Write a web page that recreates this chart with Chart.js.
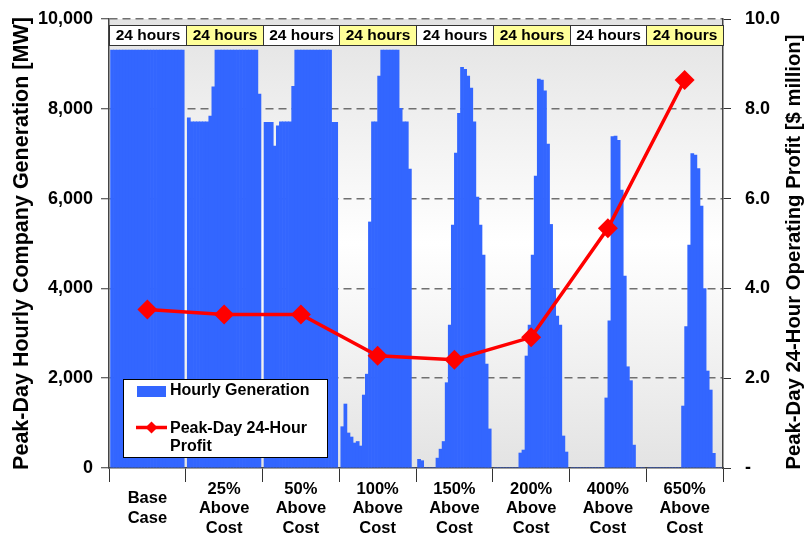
<!DOCTYPE html>
<html>
<head>
<meta charset="utf-8">
<script src="https://cdn.jsdelivr.net/npm/chart.js@4.4.1/dist/chart.umd.min.js"></script>
<style>
  html, body { margin: 0; padding: 0; background: #fff; }
  #wrap { width: 804px; height: 535px; position: relative; }
</style>
</head>
<body>
<div id="wrap"><canvas id="chart" width="804" height="535"></canvas></div>
<script>
// Scenario labels (x axis)
const categories = [
    ['Base', 'Case'],
    ['25%', 'Above', 'Cost'],
    ['50%', 'Above', 'Cost'],
    ['100%', 'Above', 'Cost'],
    ['150%', 'Above', 'Cost'],
    ['200%', 'Above', 'Cost'],
    ['400%', 'Above', 'Cost'],
    ['650%', 'Above', 'Cost']
];
const headerText = '24 hours';

// Hourly generation [MW], 24 values per scenario
const genBase = [9310, 9310, 9310, 9310, 9310, 9310, 9310, 9310, 9310, 9310, 9310, 9310,
                 9310, 9310, 9310, 9310, 9310, 9310, 9310, 9310, 9310, 9310, 9310, 9310];
const gen25 = [7800, 7710, 7710, 7710, 7710, 7710, 7710, 7840, 8490, 9310, 9310, 9310,
               9310, 9310, 9310, 9310, 9310, 9310, 9310, 9310, 9310, 9310, 9310, 8330];
const gen50 = [7700, 7700, 7700, 7170, 7620, 7710, 7710, 7710, 7710, 8500, 9310, 9310,
               9310, 9310, 9310, 9310, 9310, 9310, 9310, 9310, 9310, 9310, 7700, 7700];
const gen100 = [920, 1425, 780, 690, 557, 590, 490, 1625, 2090, 5480, 7710, 7710,
                8730, 9310, 9310, 9310, 9310, 9310, 9310, 8010, 7710, 7710, 6660, 0];
const gen150 = [193, 163, 0, 0, 0, 0, 220, 420, 590, 1900, 3185, 5410,
                7015, 7900, 8925, 8880, 8730, 8460, 7710, 6035, 5410, 4740, 2315, 870];
const gen200 = [0, 0, 0, 0, 0, 0, 0, 0, 334, 400, 2494, 3185,
                4744, 6500, 8660, 8640, 8400, 7215, 5425, 3990, 3385, 3185, 713, 356];
const gen400 = [0, 0, 0, 0, 0, 0, 0, 0, 0, 0, 0, 1560,
                3275, 7380, 7395, 7300, 6190, 4275, 2255, 1945, 510, 0, 0, 0];
const gen650 = [0, 0, 0, 0, 0, 0, 0, 0, 0, 0, 0, 1380,
                3150, 4965, 7005, 6970, 6670, 5835, 3995, 2160, 1737, 327, 0, 0];

// Peak-day 24-hour profit [$ million]
const profit = [3.53, 3.42, 3.42, 2.50, 2.41, 2.91, 5.34, 8.64];

const FONT = "'Liberation Sans', Arial, sans-serif";
const BLUE = '#3366ff';
const RED = '#ff0000';

// build bar points: each scenario takes one unit on x, hours spread inside it
const groups = [genBase, gen25, gen50, gen100, gen150, gen200, gen400, gen650];
const slots = 25;
const barPoints = [];
groups.forEach((arr, g) => {
    arr.forEach((v, h) => barPoints.push({ x: g + (h + 1) / slots, y: v }));
});
const profitPoints = profit.map((v, g) => ({ x: g + 0.5, y: v }));

// plot background: grey at top and bottom, white in the middle
const bgPlugin = {
    id: 'bg',
    beforeDraw(chart) {
        const { ctx, chartArea: a } = chart;
        const grad = ctx.createLinearGradient(0, a.top, 0, a.bottom);
        grad.addColorStop(0, '#e3e3e3');
        grad.addColorStop(0.5, '#ffffff');
        grad.addColorStop(1, '#e3e3e3');
        ctx.save();
        ctx.fillStyle = grad;
        ctx.fillRect(a.left, a.top, a.right - a.left, a.bottom - a.top);
        ctx.restore();
    }
};

// "24 hours" header boxes, right axis title, legend
const extrasPlugin = {
    id: 'extras',
    afterDraw(chart) {
        const { ctx } = chart;
        const xs = chart.scales.x;
        ctx.save();

        // header boxes
        ctx.font = 'bold 15.5px ' + FONT;
        ctx.textAlign = 'center';
        ctx.textBaseline = 'middle';
        for (let g = 0; g < categories.length; g++) {
            const x1 = Math.round(xs.getPixelForValue(g)) + 0.5;
            const x2 = Math.round(xs.getPixelForValue(g + 1)) + 0.5;
            ctx.fillStyle = g % 2 ? '#ffff99' : '#ffffff';
            ctx.fillRect(x1, 25.5, x2 - x1, 20);
            ctx.strokeStyle = '#333';
            ctx.lineWidth = 1;
            ctx.strokeRect(x1, 25.5, x2 - x1, 20);
            ctx.fillStyle = '#000';
            ctx.fillText(headerText, (x1 + x2) / 2, 36);
        }

        // right axis title (reads bottom to top)
        ctx.save();
        ctx.translate(794, 252);
        ctx.rotate(-Math.PI / 2);
        ctx.font = 'bold 20.3px ' + FONT;
        ctx.fillStyle = '#000';
        ctx.fillText('Peak-Day 24-Hour Operating Profit [$ million]', 0, 0);
        ctx.restore();

        // legend
        ctx.fillStyle = '#fff';
        ctx.fillRect(123.5, 379.5, 204, 78);
        ctx.strokeStyle = '#000';
        ctx.lineWidth = 1;
        ctx.strokeRect(123.5, 379.5, 204, 78);

        ctx.fillStyle = BLUE;
        ctx.fillRect(137, 386, 29, 11);

        ctx.strokeStyle = RED;
        ctx.lineWidth = 3.5;
        ctx.beginPath();
        ctx.moveTo(136, 427.5);
        ctx.lineTo(167, 427.5);
        ctx.stroke();
        ctx.fillStyle = RED;
        ctx.beginPath();
        ctx.moveTo(151.5, 421.5);
        ctx.lineTo(157.5, 427.5);
        ctx.lineTo(151.5, 433.5);
        ctx.lineTo(145.5, 427.5);
        ctx.closePath();
        ctx.fill();

        ctx.fillStyle = '#000';
        ctx.font = 'bold 16px ' + FONT;
        ctx.textAlign = 'left';
        ctx.textBaseline = 'middle';
        ctx.fillText(chart.data.datasets[1].label, 170, 391);
        ctx.fillText('Peak-Day 24-Hour', 170, 429);
        ctx.fillText('Profit', 170, 447);

        ctx.restore();
    }
};

const ctx = document.getElementById('chart').getContext('2d');
new Chart(ctx, {
    type: 'bar',
    data: {
        datasets: [
            {
                type: 'line',
                label: 'Peak-Day 24-Hour Profit',
                data: profitPoints,
                xAxisID: 'x',
                yAxisID: 'y2',
                borderColor: RED,
                borderWidth: 3.5,
                pointStyle: 'rectRot',
                pointRadius: 10,
                pointBackgroundColor: RED,
                pointBorderWidth: 0,
                tension: 0
            },
            {
                label: 'Hourly Generation',
                data: barPoints,
                xAxisID: 'x',
                yAxisID: 'y',
                backgroundColor: BLUE,
                borderWidth: 0,
                barPercentage: 1,
                categoryPercentage: 1,
                grouped: false
            }
        ]
    },
    options: {
        responsive: false,
        animation: false,
        events: [],
        layout: { padding: { top: 19, left: 0, right: 0, bottom: 0 } },
        plugins: {
            legend: { display: false },
            tooltip: { enabled: false }
        },
        scales: {
            x: {
                type: 'linear',
                min: 0,
                max: 8,
                offset: false,
                position: 'bottom',
                ticks: { display: false },
                grid: { display: false, offset: false },
                border: { display: false },
                afterFit(scale) { scale.height = 0; }
            },
            xc: {
                type: 'category',
                labels: categories,
                position: 'bottom',
                offset: true,
                grid: {
                    offset: true,
                    drawOnChartArea: false,
                    tickLength: 14,
                    tickColor: '#333',
                    tickWidth: 1
                },
                border: { color: '#444', width: 1.5 },
                ticks: {
                    color: '#000',
                    font: { family: FONT, size: 16.5, weight: 'bold', lineHeight: 1.2 },
                    padding: 7,
                    crossAlign: 'center',
                    maxRotation: 0,
                    autoSkip: false
                },
                afterFit(scale) { scale.height = 67; }
            },
            y: {
                position: 'left',
                min: 0,
                max: 10000,
                ticks: {
                    stepSize: 2000,
                    color: '#000',
                    padding: 8,
                    font: { family: FONT, size: 18, weight: 'bold' },
                    callback: v => v.toLocaleString('en-US')
                },
                grid: {
                    color: c => (c.tick && c.tick.value === 0) ? 'rgba(0,0,0,0)' : '#707070',
                    lineWidth: 1.5,
                    tickColor: '#333',
                    tickWidth: 1,
                    tickLength: 8
                },
                border: { color: '#444', width: 1.5, dash: [8, 5] },
                title: {
                    display: true,
                    text: 'Peak-Day Hourly Company Generation [MW]',
                    color: '#000',
                    font: { family: FONT, size: 21.5, weight: 'bold' },
                    padding: { top: 9, bottom: 0 }
                },
                afterFit(scale) {
                    scale.width = 109;
                    scale.paddingTop = 0;
                    scale.paddingBottom = 0;
                }
            },
            y2: {
                position: 'right',
                min: 0,
                max: 10,
                ticks: {
                    stepSize: 2,
                    color: '#000',
                    padding: 14,
                    font: { family: FONT, size: 18, weight: 'bold' },
                    callback: v => v === 0 ? '-' : v.toFixed(1)
                },
                grid: {
                    drawOnChartArea: false,
                    tickColor: '#333',
                    tickWidth: 1,
                    tickLength: 8
                },
                border: { color: '#444', width: 1.5 },
                afterFit(scale) {
                    scale.width = 81;
                    scale.paddingTop = 0;
                    scale.paddingBottom = 0;
                }
            }
        }
    },
    plugins: [bgPlugin, extrasPlugin]
});
</script>
</body>
</html>
